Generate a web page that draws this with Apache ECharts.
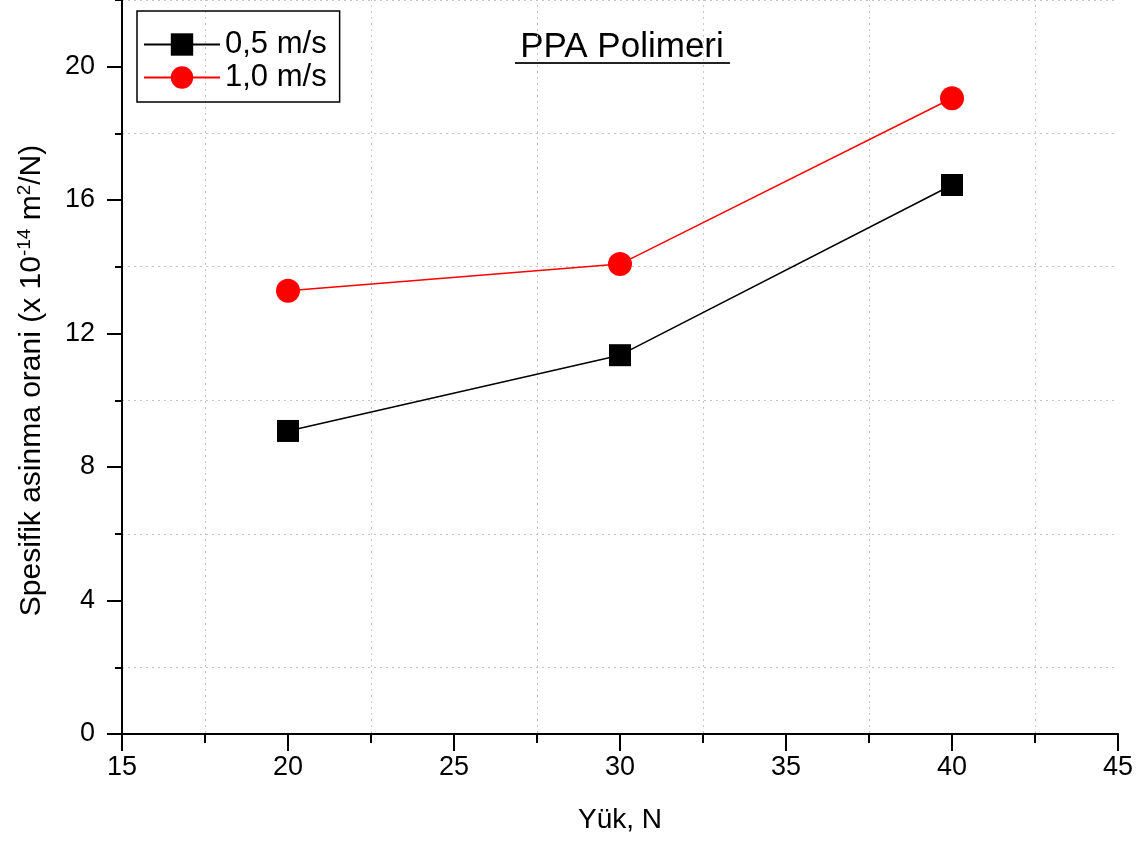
<!DOCTYPE html>
<html>
<head>
<meta charset="utf-8">
<script src="https://cdn.jsdelivr.net/npm/echarts@6/dist/echarts.min.js"></script>
<style>
html,body{margin:0;padding:0;background:#fff;}
#chart{width:1147px;height:847px;}
</style>
</head>
<body>
<div id="chart"></div>
<script>
// veriler
var yukler = [20, 30, 40];
var hiz05 = [9.08, 11.35, 16.45];
var hiz10 = [13.28, 14.08, 19.05];
var seriAdlari = ['0,5 m/s', '1,0 m/s'];

var myChart = echarts.init(document.getElementById('chart'));

function pairs(xs, ys){
    var out = [];
    for (var i = 0; i < xs.length; i++) out.push([xs[i], ys[i]]);
    return out;
}

var gridStyle = {show: true, lineStyle: {color: '#c4c4c4', width: 1, type: [2, 4]}};
var fnt = 'Arial, "Liberation Sans", sans-serif';

var option = {
    animation: false,
    backgroundColor: '#fff',
    textStyle: {fontFamily: fnt},
    // top negatif: 22 degeri tam ust kenara gelsin diye
    grid: {left: 122, right: 29, top: -67, bottom: 113, containLabel: false, outerBoundsMode: 'none'},
    legend: {
        left: 137, top: 11,
        orient: 'vertical',
        padding: [18, 13, 9, 6],
        itemGap: 2,
        itemWidth: 76, itemHeight: 28,
        borderColor: '#000', borderWidth: 1.5,
        formatter: '{t|{name}}',
        textStyle: {fontSize: 31, color: '#000', fontFamily: fnt,
            rich: {t: {fontSize: 31, fontFamily: fnt, color: '#000', lineHeight: 34}}},
        data: seriAdlari
    },
    graphic: [
        {type: 'text', x: 622, y: 30, style: {text: 'PPA Polimeri', fontSize: 35, fill: '#000', fontFamily: fnt, align: 'center'}},
        {type: 'line', shape: {x1: 515, y1: 63, x2: 730, y2: 63}, style: {stroke: '#222', lineWidth: 2}}
    ],
    xAxis: {
        type: 'value', min: 15, max: 45, interval: 5,
        name: 'Yük, N', nameLocation: 'middle', nameGap: 72,
        nameTextStyle: {fontSize: 28, color: '#000'},
        axisLine: {show: true, onZero: false, lineStyle: {color: '#000', width: 2}},
        axisTick: {show: true, length: 17, lineStyle: {color: '#000', width: 2}},
        minorTick: {show: true, splitNumber: 2, length: 9, lineStyle: {color: '#000', width: 2}},
        splitLine: {show: false},
        minorSplitLine: gridStyle,
        axisLabel: {fontSize: 27, color: '#000', margin: 20}
    },
    yAxis: {
        type: 'value', min: 0, max: 24, interval: 4,
        name: 'Spesifik asinma orani (x 10{sup|-14} m{sup|2}/N)',
        nameLocation: 'middle', nameGap: 74, nameRotate: 90,
        nameTextStyle: {fontSize: 30, color: '#000', padding: [0, 94, 0, 0],
            rich: {sup: {fontSize: 19, verticalAlign: 'top', padding: [0, 0, 14, 0]}}},
        axisLine: {show: true, onZero: false, lineStyle: {color: '#000', width: 2}},
        axisTick: {show: true, length: 15, lineStyle: {color: '#000', width: 2}},
        minorTick: {show: true, splitNumber: 2, length: 7, lineStyle: {color: '#000', width: 2}},
        splitLine: {show: false},
        minorSplitLine: gridStyle,
        axisLabel: {fontSize: 27, color: '#000', margin: 27}
    },
    series: [
        {
            name: seriAdlari[0], type: 'line', data: pairs(yukler, hiz05),
            symbol: 'rect', symbolSize: 22,
            itemStyle: {color: '#000'},
            lineStyle: {color: '#000', width: 1.5}
        },
        {
            name: seriAdlari[1], type: 'line', data: pairs(yukler, hiz10),
            symbol: 'circle', symbolSize: 24,
            itemStyle: {color: '#ff0000'},
            lineStyle: {color: '#ff0000', width: 1.5}
        }
    ]
};
myChart.setOption(option);
</script>
</body>
</html>
